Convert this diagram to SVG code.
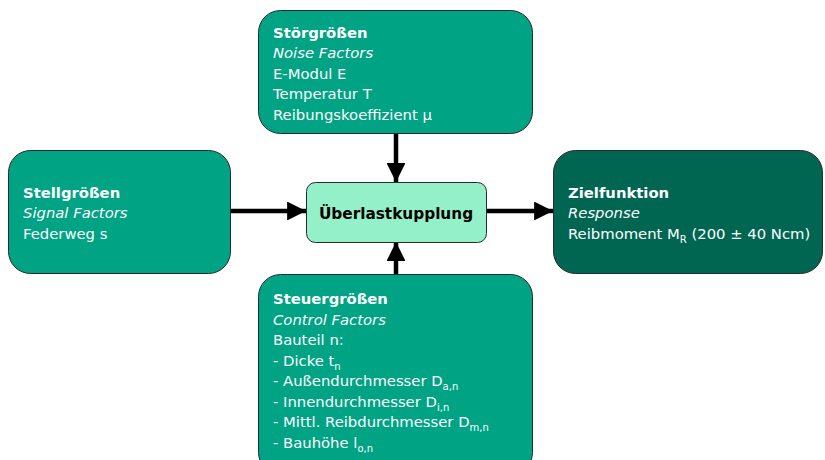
<svg xmlns="http://www.w3.org/2000/svg" width="825" height="460" viewBox="0 0 825 460">
<defs>
<style>
.box{fill:#00A383;stroke:#2a2a2a;stroke-width:1}
.dark{fill:#006652;stroke:#2a2a2a;stroke-width:1}
.core{fill:#94F0C8;stroke:#2a2a2a;stroke-width:1}
text{font-family:"DejaVu Sans",Verdana,sans-serif;font-size:14.8px;fill:#fff}
.b{font-weight:bold}
.i{font-style:italic}
.k{fill:#000;font-weight:bold;font-size:15.3px}
.sub{font-size:10px}
.arr{stroke:#000;stroke-width:4.5;fill:none;marker-end:url(#ah)}
</style>
<marker id="ah" viewBox="0 0 10 10" refX="10" refY="5" markerWidth="4.2" markerHeight="4.2" orient="auto" markerUnits="strokeWidth">
<path d="M0,0 L10,5 L0,10 z" fill="#000"/>
</marker>
</defs>
<g id="connectors">
<line class="arr" x1="396" y1="133" x2="396" y2="182"/>
<line class="arr" x1="230" y1="211" x2="306" y2="211"/>
<line class="arr" x1="486" y1="211" x2="553" y2="211"/>
<line class="arr" x1="396" y1="274" x2="396" y2="242"/>
</g>
<g id="noise">
<rect class="box" x="258.5" y="10.5" width="274" height="123" rx="22"/>
<text x="273" y="37.5" class="b">Störgrößen</text>
<text x="273" y="58" class="i">Noise Factors</text>
<text x="273" y="78.5">E-Modul E</text>
<text x="273" y="99">Temperatur T</text>
<text x="273" y="119.5">Reibungskoeffizient µ</text>
</g>
<g id="signal">
<rect class="box" x="8.5" y="150.5" width="222" height="123" rx="22"/>
<text x="23" y="198" class="b">Stellgrößen</text>
<text x="23" y="218" class="i">Signal Factors</text>
<text x="23" y="238.5">Federweg s</text>
</g>
<g id="core">
<rect class="core" x="306.5" y="182.5" width="180" height="60" rx="9"/>
<text x="396" y="219" class="k" text-anchor="middle">Überlastkupplung</text>
</g>
<g id="response">
<rect class="dark" x="553.5" y="150.5" width="269" height="123" rx="22"/>
<text x="568" y="198" class="b">Zielfunktion</text>
<text x="568" y="218" class="i">Response</text>
<text x="568" y="238.5">Reibmoment M<tspan class="sub" dy="4">R</tspan><tspan dy="-4"> (200 ± 40 Ncm)</tspan></text>
</g>
<g id="control">
<rect class="box" x="258.5" y="274.5" width="274" height="200" rx="22"/>
<text x="273" y="304" class="b">Steuergrößen</text>
<text x="273" y="324.5" class="i">Control Factors</text>
<text x="273" y="345">Bauteil n:</text>
<text x="273" y="365.5">- Dicke t<tspan class="sub" dy="4">n</tspan></text>
<text x="273" y="386">- Außendurchmesser D<tspan class="sub" dy="4">a,n</tspan></text>
<text x="273" y="406.5">- Innendurchmesser D<tspan class="sub" dy="4">i,n</tspan></text>
<text x="273" y="427">- Mittl. Reibdurchmesser D<tspan class="sub" dy="4">m,n</tspan></text>
<text x="273" y="447.5">- Bauhöhe l<tspan class="sub" dy="4">o,n</tspan></text>
</g>
</svg>
